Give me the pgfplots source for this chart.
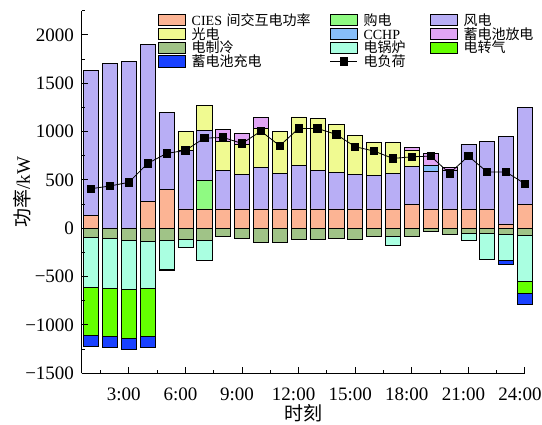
\documentclass[border=0pt]{standalone}
\usepackage{fontspec}
\setmainfont{Liberation Serif}
\newfontfamily\cjk{Noto Sans CJK SC}
\usepackage{pgfplots}
\usepackage{pgfplotstable}
\pgfplotsset{compat=1.18}

\definecolor{cies}{RGB}{252,180,148}
\definecolor{buy}{RGB}{143,250,130}
\definecolor{wind}{RGB}{184,174,245}
\definecolor{pv}{RGB}{240,250,145}
\definecolor{cchp}{RGB}{135,190,250}
\definecolor{dis}{RGB}{225,165,245}
\definecolor{cool}{RGB}{160,195,135}
\definecolor{boiler}{RGB}{170,255,225}
\definecolor{ptg}{RGB}{100,255,0}
\definecolor{chg}{RGB}{25,65,255}

\pgfplotstableread{
h cies buy wind pv cchp dis
1 130 0 1500 0 0 0
2 0 0 1703 0 0 0
3 0 0 1724 0 0 0
4 279 0 1621 0 0 0
5 399 0 799 0 0 0
6 200 0 601 200 0 0
7 200 292 520 254 0 0
8 200 0 400 300 0 122
9 200 0 357 310 0 114
10 200 0 426 406 0 114
11 200 0 368 430 0 0
12 200 0 446 506 0 0
13 200 0 399 536 0 0
14 200 0 378 496 0 0
15 200 0 357 399 0 0
16 200 0 347 341 0 0
17 200 0 368 320 0 0
18 245 0 398 165 0 25
19 200 0 388 0 62 124
20 200 0 402 0 0 28
21 200 0 670 0 0 0
22 200 0 701 0 0 0
23 44 0 906 0 0 0
24 247 0 1005 0 0 0
}\postab

\pgfplotstableread{
h cool boiler ptg chg
1 -93 -513 -499 -117
2 -103 -516 -500 -117
3 -121 -509 -506 -113
4 -138 -481 -500 -113
5 -128 -292 0 -11
6 -114 -86 0 0
7 -128 -206 0 0
8 -80 0 0 0
9 -103 0 0 0
10 -145 0 0 0
11 -145 0 0 0
12 -114 0 0 0
13 -110 0 0 0
14 -103 0 0 0
15 -114 0 0 0
16 -86 0 0 0
17 -80 -92 0 0
18 -86 0 0 0
19 -28 0 0 0
20 -59 0 0 0
21 -52 -69 0 0
22 -52 -268 0 0
23 -59 -271 0 -39
24 -76 -468 -127 -121
}\negtab

\pgfplotstableread{
h load
1 409
2 437
3 475
4 671
5 774
6 805
7 932
8 939
9 877
10 1004
11 853
12 1032
13 1032
14 970
15 843
16 798
17 722
18 739
19 746
20 568
21 746
22 581
23 581
24 460
}\loadtab

\pgfplotsset{
  base/.style={scale only axis, width=443.3pt, height=362.6pt,
    xmin=0.5, xmax=24, ymin=-1500, ymax=2250, clip=false,
    at={(0pt,0pt)}, anchor=south west},
  barbase/.style={base, hide axis, ybar stacked, bar width=0.8},
  bb/.style={fill=#1, draw=black, line width=0.7pt},
  mybox/.style={legend image code/.code={\draw[fill=#1, draw=black, line width=0.7pt] (0pt,-5.7pt) rectangle (27pt,5.7pt);}},
  lineleg/.style={legend image code/.code={\draw[mark repeat=2,mark phase=2,##1] plot coordinates {(0pt,0pt)(13.5pt,0pt)(27pt,0pt)};}},
}

\begin{document}
\begin{tikzpicture}
\useasboundingbox (-81.7pt,-51.7pt) rectangle (460.3pt,373.3pt);
% negative stack
\begin{axis}[barbase]
\addplot[bb=cool] table[x=h,y=cool]{\negtab};
\addplot[bb=boiler] table[x=h,y=boiler]{\negtab};
\addplot[bb=ptg] table[x=h,y=ptg]{\negtab};
\addplot[bb=chg] table[x=h,y=chg]{\negtab};
\end{axis}
% positive stack
\begin{axis}[barbase]
\addplot[bb=cies] table[x=h,y=cies]{\postab};
\addplot[bb=buy] table[x=h,y=buy]{\postab};
\addplot[bb=wind] table[x=h,y=wind]{\postab};
\addplot[bb=pv] table[x=h,y=pv]{\postab};
\addplot[bb=cchp] table[x=h,y=cchp]{\postab};
\addplot[bb=dis] table[x=h,y=dis]{\postab};
\end{axis}
% axes, load line, legend
\begin{axis}[base,
  axis x line*=bottom, axis y line*=left,
  axis line style={line width=1pt, black},
  tick style={line width=1pt, black},
  tick align=inside,
  major tick length=6pt, minor tick length=3pt,
  xtick={3,6,...,24},
  xticklabels={3:00,6:00,9:00,12:00,15:00,18:00,21:00,24:00},
  minor xtick={1.5,4.5,...,22.5},
  ytick={-1500,-1000,...,2000},
  yticklabels={−1500,−1000,−500,0,500,1000,1500,2000},
  minor ytick={-1250,-750,...,2250},
  tick label style={font=\fontsize{19}{19}\selectfont},
  xticklabel style={inner sep=0pt, anchor=north, yshift=-14.5pt, xshift=-5pt},
  yticklabel style={inner sep=0pt, anchor=east, xshift=-7.5pt},
  xlabel={\cjk 时刻},
  ylabel={{\cjk 功率}/kW},
  label style={font=\fontsize{19}{19}\selectfont},
  xlabel style={at={(axis description cs:0.5,-0.1095)}, anchor=center},
  ylabel style={at={(axis description cs:-0.1335,0.5)}, anchor=center},
  legend columns=3,
  legend cell align=left,
  legend style={at={(axis description cs:0.1728,0.9934)}, anchor=north west,
    draw=none, fill=none, inner sep=0pt, outer sep=0pt, row sep=0pt,
    font=\fontsize{14}{14}\selectfont,
    nodes={inner sep=0pt, text height=12.2pt, text depth=1.6pt, align=left},
    /tikz/every odd column/.style={column sep=5.7pt},
    /tikz/every even column/.style={column sep=0pt},
    /tikz/column 2/.style={nodes={text width=138.3pt}},
    /tikz/column 4/.style={nodes={text width=66.6pt}},
  },
]
\addlegendimage{mybox=cies}\addlegendentry{CIES {\cjk 间交互电功率}}
\addlegendimage{mybox=buy}\addlegendentry{\cjk 购电}
\addlegendimage{mybox=wind}\addlegendentry{\cjk 风电}
\addlegendimage{mybox=pv}\addlegendentry{\cjk 光电}
\addlegendimage{mybox=cchp}\addlegendentry{CCHP}
\addlegendimage{mybox=dis}\addlegendentry{\cjk 蓄电池放电}
\addlegendimage{mybox=cool}\addlegendentry{\cjk 电制冷}
\addlegendimage{mybox=boiler}\addlegendentry{\cjk 电锅炉}
\addlegendimage{mybox=ptg}\addlegendentry{\cjk 电转气}
\addlegendimage{mybox=chg}\addlegendentry{\cjk 蓄电池充电}
\addplot[black, line width=0.8pt, mark=square*, mark size=3.6pt, lineleg]
  table[x=h,y=load]{\loadtab};
\addlegendentry{\cjk 电负荷}
\end{axis}
\end{tikzpicture}
\end{document}
